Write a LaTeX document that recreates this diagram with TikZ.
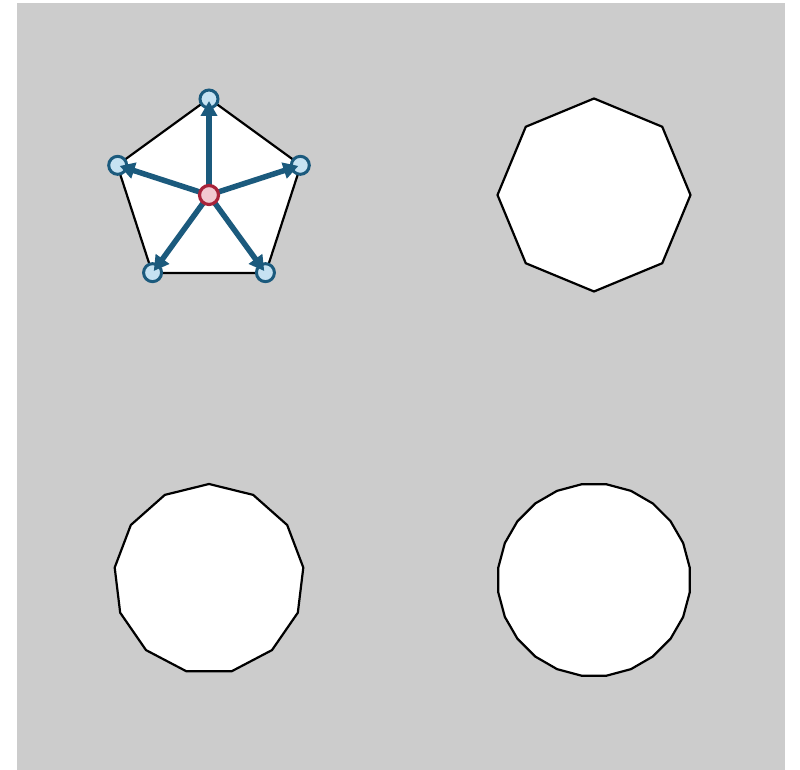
\documentclass[tikz,border=0pt]{standalone}
\usetikzlibrary{shapes.geometric,arrows.meta}
\definecolor{bggray}{HTML}{CCCCCC}
\definecolor{dotfill}{HTML}{C6E2F2}
\definecolor{darkblue}{HTML}{1B5A7D}
\definecolor{pinkfill}{HTML}{F2C9D1}
\definecolor{darkred}{HTML}{A8233A}
\tikzset{
  poly/.style={draw=black, fill=white, line width=2.2pt, inner sep=0pt, outer sep=0pt},
  vdot/.style={circle, draw=darkblue, fill=dotfill, line width=3pt, minimum size=18pt, inner sep=0pt},
  cdot/.style={circle, draw=darkred, fill=pinkfill, line width=3.2pt, minimum size=19pt, inner sep=0pt},
  spoke/.style={draw=darkblue, line width=5.5pt, -{Triangle[length=15pt,width=16pt]}, shorten >=2pt}
}
\begin{document}
\begin{tikzpicture}[x=1pt,y=1pt]
\useasboundingbox (0,0) rectangle (800,770);
\fill[bggray] (17,0) rectangle (785,767);
% shapes
\node[poly, regular polygon, regular polygon sides=5, minimum size=193pt] (pent) at (209,575) {};
\node[poly, regular polygon, regular polygon sides=8, regular polygon rotate=22.5, minimum size=193pt] (oct) at (594,575) {};
\node[poly, regular polygon, regular polygon sides=13, minimum size=190pt] (tri) at (209,191) {};
\node[poly, regular polygon, regular polygon sides=24, minimum size=193pt] (icos) at (594,190) {};
% star graph
\coordinate (c) at (209,575);
\node[vdot] (v1) at ([shift={(90:96)}]c) {};
\node[vdot] (v2) at ([shift={(162:96)}]c) {};
\node[vdot] (v3) at ([shift={(234:96)}]c) {};
\node[vdot] (v4) at ([shift={(306:96)}]c) {};
\node[vdot] (v5) at ([shift={(18:96)}]c) {};
\foreach \v in {v1,v2,v3,v4,v5} {
  \draw[spoke] (c) -- (\v.center);
}
\node[cdot] (cn) at (c) {};
\end{tikzpicture}
\end{document}
